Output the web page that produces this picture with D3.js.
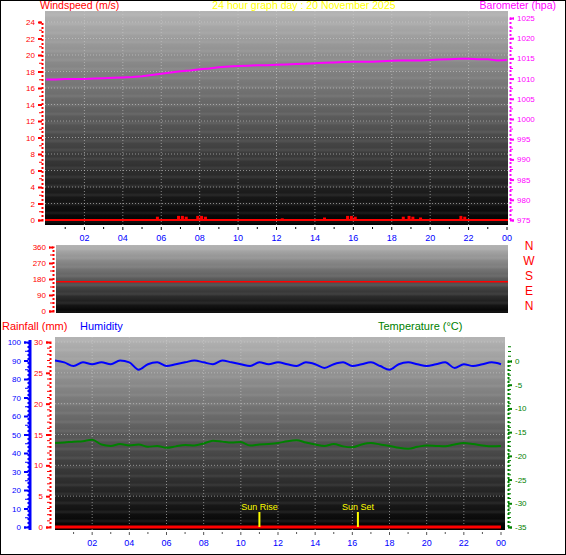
<!DOCTYPE html>
<html><head><meta charset="utf-8">
<script src="https://d3js.org/d3.v7.min.js"></script>
<style>body{margin:0;background:#fff}svg{display:block}text{font-family:"Liberation Sans",Arial,sans-serif}</style>
</head><body><svg id="c" width="566" height="555"></svg>
<script>
const title = "24 hour graph day : 20 November 2025";
const hourTicks = ["02","04","06","08","10","12","14","16","18","20","22","00"];
// half-hourly values, 0..24h (49 points)
const pressure = [1009.8,1009.8,1009.9,1009.9,1009.9,1010,1010.1,1010.2,1010.3,1010.4,1010.6,1010.9,1011.2,1011.5,1011.8,1012,1012.3,1012.5,1012.8,1013,1013.1,1013.2,1013.3,1013.3,1013.4,1013.5,1013.6,1013.7,1013.8,1013.9,1014,1014.1,1014.2,1014.2,1014.2,1014.3,1014.4,1014.5,1014.5,1014.5,1014.6,1014.7,1014.8,1014.9,1014.9,1014.8,1014.8,1014.5,1014.6];
const windTimes = [5.8,6.9,7.1,7.3,7.9,8.1,8.3,12.3,14.5,15.7,15.9,16.1,18.6,18.9,19.1,19.5,21.6,21.8];
const windValues = [0.4,0.5,0.5,0.4,0.5,0.5,0.4,0.2,0.3,0.5,0.5,0.4,0.4,0.5,0.4,0.3,0.5,0.4];
const windDir = [165,165,165,165,165,165,165,165,165,165,165,165,165,165,165,165,165,165,165,165,165,165,165,165,165];
const humidity = [90,89,87,89,88,89,88,90,89,85,88,89,87,88,89,90,89,88,90,89,88,87,89,88,89,88,87,89,88,86,88,89,87,88,89,87,85,88,89,88,87,88,89,86,88,87,88,89,88];
const temperature = [-17.3,-17.2,-17,-16.9,-16.6,-17.6,-17.9,-17.5,-17.8,-17.6,-18.1,-17.9,-18.3,-18,-17.7,-17.8,-17.4,-16.8,-17,-17.2,-17.1,-17.8,-17.6,-17.5,-17.3,-16.9,-16.7,-17.2,-17.6,-17.9,-17.5,-18,-18.2,-17.6,-17.3,-17.6,-17.9,-18.3,-18.5,-18.1,-17.8,-17.9,-18,-17.6,-17.3,-17.5,-17.8,-18,-17.9];
const rain = [0,0,0,0,0,0,0,0,0,0,0,0,0,0,0,0,0,0,0,0,0,0,0,0,0];
const sunEvents = [{label:"Sun Rise",h:11.0},{label:"Sun Set",h:16.3}];
const dirLabels = ["N","W","S","E","N"];

const svg = d3.select("#c");
svg.append("rect").attr("x",0.5).attr("y",0.5).attr("width",565).attr("height",554).attr("fill","#fff").attr("stroke","#000");
const defs = svg.append("defs");
const g = defs.append("linearGradient").attr("id","bg").attr("x1",0).attr("x2",0).attr("y1",0).attr("y2",1);
g.append("stop").attr("offset",0).attr("stop-color","#b4b4b4");
g.append("stop").attr("offset",1).attr("stop-color","#000");
const half = d3.range(0,24.01,0.5);

function panel(x0,x1,y0,y1){
  svg.append("rect").attr("x",x0).attr("y",y0).attr("width",x1-x0).attr("height",y1-y0).attr("fill","url(#bg)");
  for(let y=y0+4;y<y1;y+=9) svg.append("line").attr("x1",x0).attr("x2",x1).attr("y1",y).attr("y2",y).attr("stroke","rgba(255,255,255,0.06)").attr("stroke-width",3);
}
function xaxis(x,y,col){
  const ax = svg.append("g").attr("transform",`translate(0,${y})`);
  d3.range(1,25).forEach(h=>{ax.append("line").attr("x1",x(h)).attr("x2",x(h)).attr("y1",2).attr("y2",h%2?4:5).attr("stroke",col);});
  hourTicks.forEach((t,i)=>ax.append("text").attr("x",x((i+1)*2)).attr("y",16).attr("text-anchor","middle").attr("font-size",9).attr("fill","#0000ff").text(t));
}
function vgrid(x,y0,y1){ d3.range(2,24,2).forEach(h=>svg.append("line").attr("x1",x(h)).attr("x2",x(h)).attr("y1",y0).attr("y2",y1).attr("stroke","#ccc").attr("stroke-dasharray","1,2").attr("opacity",0.6)); }
function hgrid(y,ticks,x0,x1){ ticks.forEach(t=>svg.append("line").attr("x1",x0).attr("x2",x1).attr("y1",y(t)).attr("y2",y(t)).attr("stroke","#ccc").attr("stroke-dasharray","1,2").attr("opacity",0.6)); }
function yaxis(y,ticks,xpos,side,col,minor,fmt){
  const ax = side==="left"?d3.axisLeft(y):d3.axisRight(y);
  const a=svg.append("g").attr("transform",`translate(${xpos},0)`).call(ax.tickValues(ticks).tickSize(4).tickFormat(fmt||(d=>d)));
  a.select(".domain").attr("stroke",col).attr("stroke-width",2).attr("stroke-dasharray","2,2");
  a.selectAll("line").attr("stroke",col).attr("stroke-width",2);
  a.selectAll("text").attr("fill",col).attr("font-size",8);
  if(minor) minor.forEach(m=>svg.append("line").attr("x1",xpos).attr("x2",xpos+(side==="left"?-3:3)).attr("y1",y(m)).attr("y2",y(m)).attr("stroke",col));
}

// Top panel
const xT = d3.scaleLinear().domain([0,24]).range([46,507]);
const yW = d3.scaleLinear().domain([0,24]).range([220,22]);
const yP = d3.scaleLinear().domain([975,1025]).range([220,18]);
panel(45,508,11,225);
vgrid(xT,11,225); hgrid(yW,d3.range(2,25,2),45,508);
yaxis(yW,d3.range(0,25,2),42,"left","#ff0000",d3.range(1,25,2));
yaxis(yP,d3.range(975,1026,5),510,"right","#ff00ff",d3.range(977.5,1025,5));
svg.append("line").attr("x1",45).attr("x2",508).attr("y1",yW(0)).attr("y2",yW(0)).attr("stroke","#ff0000").attr("stroke-width",2);
windTimes.forEach((t,i)=>svg.append("rect").attr("x",xT(t)-1.5).attr("width",3).attr("y",yW(windValues[i])).attr("height",yW(0)-yW(windValues[i])).attr("fill","#ff0000"));
svg.append("path").datum(pressure).attr("fill","none").attr("stroke","#ff00ff").attr("stroke-width",2)
  .attr("d",d3.line().x((d,i)=>xT(half[i])).y(d=>yP(d)));
xaxis(xT,225,"#000");
svg.append("text").attr("x",40).attr("y",9).attr("font-size",10.5).attr("fill","#ff0000").text("Windspeed (m/s)");
svg.append("text").attr("x",304).attr("y",9).attr("font-size",10.5).attr("fill","#ffff00").attr("text-anchor","middle").text(title);
svg.append("text").attr("x",556).attr("y",9).attr("font-size",10.5).attr("fill","#ff00ff").attr("text-anchor","end").text("Barometer (hpa)");

// Middle panel
const xM = d3.scaleLinear().domain([0,24]).range([56,508]);
const yD = d3.scaleLinear().domain([0,360]).range([311,247]);
panel(56,508,245,313);
yaxis(yD,[0,90,180,270,360],53,"left","#ff0000",[45,135,225,315]);
svg.append("path").datum(windDir).attr("fill","none").attr("stroke","#ff0000").attr("stroke-width",1.5)
  .attr("d",d3.line().x((d,i)=>xM(i)).y(d=>yD(d)));
dirLabels.forEach((l,i)=>svg.append("text").attr("x",529).attr("y",250+i*15).attr("font-size",12).attr("fill","#ff0000").attr("text-anchor","middle").text(l));

// Bottom panel
const xB = d3.scaleLinear().domain([0,24]).range([55,501]);
const yR = d3.scaleLinear().domain([0,30]).range([527,342]);
const yH = d3.scaleLinear().domain([0,100]).range([527,342]);
const yTm = d3.scaleLinear().domain([-35,0]).range([527,361]);
panel(55,505,337,530);
vgrid(xB,337,530); hgrid(yR,d3.range(5,31,5),55,505);
yaxis(yH,d3.range(0,101,10),28,"left","#0000ff",d3.range(5,100,10));
svg.append("line").attr("x1",30).attr("x2",30).attr("y1",340).attr("y2",530).attr("stroke","#0000ff").attr("stroke-width",3);
yaxis(yR,d3.range(0,31,5),50,"left","#ff0000",d3.range(1,30,1).filter(v=>v%5));
yaxis(yTm,d3.range(-35,1,5),508,"right","#008000",d3.range(-34,4,1).filter(v=>v%5));
svg.append("path").datum(humidity).attr("fill","none").attr("stroke","#0000ff").attr("stroke-width",2)
  .attr("d",d3.line().curve(d3.curveMonotoneX).x((d,i)=>xB(half[i])).y(d=>yH(d)));
svg.append("path").datum(temperature).attr("fill","none").attr("stroke","#008000").attr("stroke-width",2)
  .attr("d",d3.line().curve(d3.curveMonotoneX).x((d,i)=>xB(half[i])).y(d=>yTm(d)));
svg.append("path").datum(rain).attr("fill","none").attr("stroke","#ff0000").attr("stroke-width",3)
  .attr("d",d3.line().x((d,i)=>xB(i)).y(d=>yR(d)));
sunEvents.forEach(s=>{
  svg.append("line").attr("x1",xB(s.h)).attr("x2",xB(s.h)).attr("y1",512).attr("y2",527).attr("stroke","#ffff00").attr("stroke-width",2);
  svg.append("text").attr("x",xB(s.h)).attr("y",510).attr("font-size",9).attr("fill","#ffff00").attr("text-anchor","middle").text(s.label);
});
xaxis(xB,530,"#555");
svg.append("text").attr("x",2).attr("y",330).attr("font-size",11).attr("fill","#ff0000").text("Rainfall (mm)");
svg.append("text").attr("x",80).attr("y",330).attr("font-size",11).attr("fill","#0000ff").text("Humidity");
svg.append("text").attr("x",378).attr("y",330).attr("font-size",11).attr("fill","#008000").text("Temperature (°C)");
</script></body></html>
